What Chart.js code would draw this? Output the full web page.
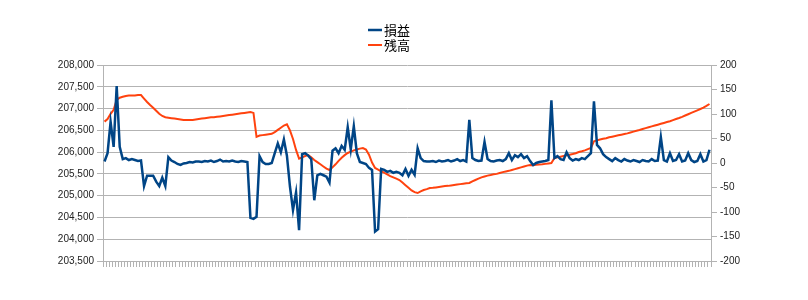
<!DOCTYPE html>
<html>
<head>
<meta charset="utf-8">
<script src="https://cdn.jsdelivr.net/npm/chart.js@4/dist/chart.umd.min.js"></script>
<style>
  body { margin: 0; background: #fff; }
  #wrap { width: 808px; height: 300px; }
</style>
</head>
<body>
<div id="wrap"><canvas id="chart" width="808" height="300"></canvas></div>
<script>
// series names
var seriesNames = ['損益', '残高'];

// 損益 (right axis)
var pnl = [
    3, 20, 84, 33, 157, 33, 8, 10, 6, 8,
    6, 4, 5, -47, -26, -26, -26, -38, -47, -30,
    -47, 12, 5, 2, -2, -4, -1, 0, 2, 1,
    3, 3, 2, 4, 3, 5, 2, 4, 7, 3,
    4, 3, 5, 3, 2, 4, 3, 2, -112, -114,
    -110, 14, 2, -2, -2, 0, 20, 40, 22, 48,
    15, -48, -96, -60, -137, 18, 20, 15, 8, -76,
    -25, -22, -25, -28, -40, 25, 30, 20, 35, 27,
    73, 28, 75, 20, 2, 0, -2, -10, -14, -140,
    -135, -12, -14, -18, -16, -20, -18, -20, -25, -12,
    -26, -14, -24, 30, 10, 4, 3, 3, 4, 2,
    5, 3, 4, 6, 3, 5, 8, 4, 6, 3,
    88, 10, 6, 4, 5, 43, 8, 4, 3, 5,
    6, 4, 8, 20, 6, 16, 12, 18, 10, 14,
    4, -4, 0, 2, 3, 4, 6, 128, 10, 14,
    8, 6, 22, 10, 5, 8, 6, 10, 8, 14,
    20, 126, 37, 30, 18, 12, 8, 4, 10, 6,
    3, 8, 5, 3, 6, 4, 2, 6, 4, 3,
    8, 4, 5, 53, 6, 3, 20, 4, 6, 18,
    3, 5, 20, 6, 2, 4, 18, 3, 6, 27
];

// 残高 (left axis)
var balance = [
    206700, 206760, 206880, 206970, 207200, 207250, 207270, 207290, 207300, 207300,
    207300, 207310, 207310, 207230, 207150, 207080, 207020, 206950, 206880, 206830,
    206800, 206790, 206780, 206770, 206760, 206750, 206740, 206740, 206737, 206740,
    206750, 206760, 206770, 206780, 206790, 206800, 206800, 206810, 206820, 206830,
    206840, 206850, 206860, 206870, 206880, 206890, 206900, 206910, 206920, 206900,
    206350, 206380, 206390, 206400, 206410, 206420, 206460, 206510, 206560, 206610,
    206640, 206500, 206300, 206050, 205850, 205880, 205910, 205930, 205880, 205820,
    205770, 205720, 205670, 205620, 205590, 205650, 205720, 205800, 205870, 205930,
    205980, 206010, 206040, 206060, 206080, 206094, 206060, 205940, 205760, 205635,
    205600, 205560, 205530, 205490, 205450, 205420, 205390, 205360, 205300, 205240,
    205180, 205120, 205080, 205061, 205100, 205130, 205150, 205176, 205180, 205190,
    205200, 205210, 205220, 205225, 205235, 205245, 205255, 205265, 205275, 205285,
    205291, 205330, 205360, 205390, 205420, 205440, 205460, 205474, 205490, 205500,
    205520, 205540, 205555, 205570, 205590, 205610, 205630, 205650, 205670, 205690,
    205704, 205700, 205710, 205715, 205720, 205730, 205740, 205750, 205865, 205880,
    205895, 205910, 205925, 205940, 205955, 205975, 206003, 206020, 206040, 206070,
    206094, 206250, 206270, 206290, 206305, 206320, 206340, 206355, 206370, 206385,
    206400, 206415, 206430, 206450, 206470, 206490, 206508, 206530, 206550, 206570,
    206590, 206610, 206630, 206650, 206670, 206690, 206710, 206735, 206760, 206783,
    206810, 206840, 206870, 206900, 206930, 206960, 206990, 207020, 207060, 207104
];

// category axis: one tick per row, labels left blank like the original
var categories = pnl.map(function (v, i) { return i + 1; });

var gridColor = '#b3b3b3';
var tickFont = { family: 'Liberation Sans', size: 10 };

// two-line legend stacked in the middle, like the office chart
var stackedLegend = {
    id: 'stackedLegend',
    afterDraw: function (chart) {
        var ctx = chart.ctx;
        ctx.save();
        ctx.font = '13px "Noto Sans CJK JP"';
        ctx.textBaseline = 'middle';
        ctx.fillStyle = '#000';
        chart.data.datasets.forEach(function (ds, i) {
            var y = 30 + i * 15;
            ctx.strokeStyle = ds.borderColor;
            ctx.lineWidth = ds.borderWidth;
            ctx.beginPath();
            ctx.moveTo(368, y);
            ctx.lineTo(382, y);
            ctx.stroke();
            ctx.fillText(ds.label, 384, y);
        });
        ctx.restore();
    }
};

new Chart(document.getElementById('chart').getContext('2d'), {
    type: 'line',
    data: {
        labels: categories,
        datasets: [{
            label: seriesNames[0],
            data: pnl,
            yAxisID: 'y1',
            borderColor: '#004586',
            backgroundColor: '#004586',
            borderWidth: 2.5,
            pointRadius: 0,
            tension: 0,
            fill: false
        }, {
            label: seriesNames[1],
            data: balance,
            yAxisID: 'y',
            borderColor: '#ff420e',
            backgroundColor: '#ff420e',
            borderWidth: 2,
            pointRadius: 0,
            tension: 0,
            fill: false
        }]
    },
    options: {
        responsive: false,
        animation: false,
        layout: { padding: { top: 65, left: 0, right: 0, bottom: 0 } },
        plugins: {
            legend: { display: false },
            tooltip: { enabled: false }
        },
        scales: {
            x: {
                offset: true,
                grid: { display: true, drawOnChartArea: false, color: gridColor, tickLength: 6, offset: true },
                border: { color: gridColor },
                ticks: { autoSkip: false, maxRotation: 0, callback: function () { return ''; } },
                afterFit: function (s) { s.height = 39; }
            },
            y: {
                position: 'left',
                min: 203500,
                max: 208000,
                grid: { color: gridColor, tickLength: 6 },
                border: { color: gridColor },
                ticks: { stepSize: 500, color: '#222', font: tickFont, padding: 3 },
                afterFit: function (s) { s.width = 103; }
            },
            y1: {
                position: 'right',
                min: -200,
                max: 200,
                grid: { drawOnChartArea: false, color: gridColor, tickLength: 6 },
                border: { color: gridColor },
                ticks: { stepSize: 50, color: '#222', font: tickFont, padding: 3 },
                afterFit: function (s) { s.width = 97; }
            }
        }
    },
    plugins: [stackedLegend]
});
</script>
</body>
</html>
